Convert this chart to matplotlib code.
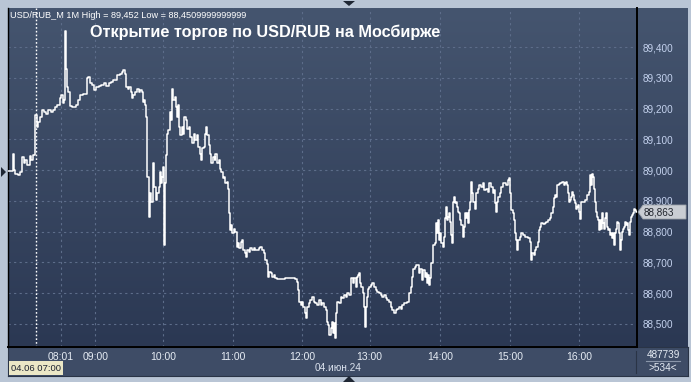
import matplotlib
matplotlib.use("Agg")
import matplotlib.pyplot as plt
import numpy as np
from matplotlib.colors import LinearSegmentedColormap
from matplotlib.patches import Polygon, Rectangle
from matplotlib.ticker import FuncFormatter

plt.rcParams["font.family"] = ["Liberation Sans", "DejaVu Sans"]

W, H = 691, 382

# minute-bar index (0 = first bar on screen) and close price
bars = [
    0, 2.8, 4.2, 4.8, 6.2, 8.5, 10.2, 11.9, 13.3, 14.7, 16.4, 18.4, 19.8, 21.5, 22.7,
    23.2, 24.4, 25.5, 27.2, 28.9, 30.6, 32.6, 34.0, 36.3, 38.2, 40.2, 41.9, 43.9, 45.3,
    46.5, 47.6, 48.2, 49.0, 49.9, 51.0, 52.4, 54.4, 56.1, 57.5, 59.5, 61.2, 63.7, 65.7,
    66.9, 68.0, 69.7, 71.4, 73.1, 74.8, 77.1, 79.3, 81.6, 83.6, 85.5, 87.8,
    89.4, 92.3, 95.1, 96.5, 97.9, 99.3, 100.2, 101.6, 103.0, 104.1, 105.0, 106.4,
    108.1, 109.5, 110.9, 112.4, 113.5, 114.3, 115.5, 116.3, 117.2, 117.7, 118.3, 119.4,
    120.6, 121.4, 122.8, 123.4, 124.2, 125.6, 126.8, 127.9, 129.0, 129.9, 131.0, 131.6,
    132.2, 132.4, 133.3, 134.1, 135.0, 136.1, 137.5, 138.4, 139.2, 140.4, 141.8, 142.6,
    143.5, 144.3, 145.5, 146.3, 147.4, 148.6, 149.7, 150.8, 152.0, 153.4, 154.8, 156.2,
    157.6, 159.0, 160.5, 161.6, 162.7, 163.9, 165.0, 166.1, 167.2, 168.1, 169.2, 170.4,
    171.5, 172.6, 174.0, 175.4,
    176.0, 177.4, 178.9, 180.3, 181.1, 182.3, 183.4, 184.5, 185.7, 186.8, 187.3, 188.2,
    189.0, 190.2, 191.6, 193.0, 194.1, 195.3, 196.4, 197.5, 198.7, 199.8, 200.9, 202.1,
    203.2, 204.3, 205.7, 207.2, 208.6, 210.0, 211.4, 212.8, 214.2, 215.6, 217.1, 218.5,
    219.9, 220.7, 221.9, 223.0, 224.1, 225.5, 227.0, 228.4, 229.8, 232.6, 235.5, 238.3,
    241.1, 243.4, 245.4, 246.2, 247.3, 248.5, 249.6, 250.7, 251.9, 253.0, 254.1, 255.3,
    256.7, 258.1, 259.5, 260.9, 262.3,
    264.0, 265.5, 266.9, 268.3, 269.7, 271.1, 272.0, 272.8, 274.0, 274.8, 275.6, 276.8,
    277.6, 278.5, 279.6, 281.0, 282.4, 283.9, 285.3, 286.7, 288.1, 289.5, 290.9, 291.5,
    292.6, 293.8, 295.2, 296.0, 297.2, 298.0, 298.9, 300.0, 301.1, 302.2, 302.8, 303.7,
    304.5, 305.6, 306.8, 307.9, 309.3, 310.7, 312.1, 313.6, 315.0, 316.4, 317.8, 319.2,
    320.6, 322.1, 323.5, 324.9, 326.3, 327.7, 329.1, 330.5, 332.0, 333.4, 334.8, 336.2,
    337.6, 339.0, 340.4, 341.9, 343.3, 344.1, 345.3, 346.4,
    347.7, 348.6, 349.7, 351.4, 352.5, 353.7, 354.8, 355.6, 356.5, 357.6, 358.5, 359.3,
    360.4, 361.0, 362.1, 363.3, 364.1, 365.0, 366.1, 367.0, 367.8, 368.9, 369.8, 370.9,
    371.8, 372.6, 373.5, 374.6, 375.4, 376.3, 376.9, 377.4, 378.3, 379.1, 380.3, 381.1,
    382.0, 383.1, 383.9, 384.8, 385.9, 386.8, 387.6, 388.7, 389.6, 390.7, 391.6, 392.4,
    393.3, 394.1, 395.0, 396.1, 397.2, 398.1, 399.2, 400.1, 401.5, 402.9, 404.3, 405.7,
    407.1, 408.6, 410.0, 411.4, 412.8, 413.6, 414.2, 415.1, 416.2, 417.6, 418.7, 419.9,
    421.3, 422.7, 424.1, 425.0, 426.1, 426.9, 428.4, 429.2, 430.1, 431.2, 432.0,
    433.2, 434.3, 435.7, 437.1, 438.6, 440.0, 441.4, 442.8, 443.7, 444.2, 445.1, 446.2,
    447.0, 448.5, 449.9, 450.7, 451.6, 452.7, 454.1, 455.5, 456.9, 458.4, 459.8, 461.2,
    462.3, 463.2, 464.0, 464.9, 466.0, 467.4, 468.8, 470.3, 471.7, 473.1, 473.9, 474.8,
    475.3, 475.9, 476.8, 477.6, 478.7, 479.6, 480.4, 481.0, 481.9, 482.7, 483.8, 484.7,
    485.5, 486.1, 486.7, 488.1, 489.5, 490.9, 491.8, 492.9, 493.7, 494.6, 495.7, 496.3,
    497.1, 498.0, 498.8, 499.7, 500.8, 501.7, 502.5, 503.4, 504.2, 505.1, 505.9, 506.8,
    507.6, 508.5, 509.3, 510.2, 511.0, 511.8, 512.7, 513.5, 514.4, 515.2, 516.1, 516.9,
    517.8, 518.6, 519.5, 520.3, 521.2, 522.0, 522.9, 524.0, 524.9, 525.7, 526.6, 527.4,
    528.3, 529.1, 530.0, 530.8, 531.7, 532.6, 533.4, 534.3,
]
prices = [
    88.998, 88.998, 89.051, 89.000, 88.987, 88.984, 88.995, 89.043, 89.022, 89.033, 89.016,
    89.046, 89.033, 89.049, 89.054,
    89.179, 89.141, 89.157, 89.173, 89.197, 89.190, 89.182, 89.195, 89.190, 89.195, 89.204,
    89.211, 89.233, 89.244, 89.217, 89.228, 89.452, 89.330, 89.271, 89.255, 89.208, 89.206,
    89.204, 89.211, 89.228, 89.244, 89.247, 89.249, 89.298, 89.303, 89.284, 89.276, 89.260,
    89.271, 89.273, 89.276, 89.282, 89.273, 89.282, 89.287,
    89.293, 89.309, 89.314, 89.320, 89.325, 89.314, 89.271, 89.265, 89.271, 89.255, 89.233,
    89.244, 89.255, 89.265, 89.255, 89.260, 89.255, 89.222, 89.228, 89.211, 89.173, 89.108,
    88.978, 88.848, 88.924, 88.897, 88.962, 89.022, 88.946, 88.902, 88.924, 88.946, 88.995,
    88.957, 88.978, 89.011, 88.935, 88.757, 88.957, 89.049, 89.119, 89.130, 89.190, 89.163,
    89.265, 89.228, 89.238, 89.206, 89.173, 89.211, 89.141, 89.114, 89.141, 89.119, 89.173,
    89.163, 89.135, 89.141, 89.108, 89.087, 89.119, 89.098, 89.114, 89.076, 89.054, 89.033,
    89.071, 89.076, 89.119, 89.141, 89.114, 89.081, 89.054, 89.022, 89.043, 89.033,
    89.054, 89.022, 89.033, 89.005, 88.995, 88.973, 88.978, 88.957, 88.962, 88.940, 88.859,
    88.805, 88.821, 88.794, 88.810, 88.799, 88.751, 88.762, 88.746, 88.767, 88.773, 88.740,
    88.729, 88.718, 88.740, 88.735, 88.746, 88.740, 88.746, 88.740, 88.740, 88.746, 88.751,
    88.740, 88.729, 88.707, 88.696, 88.653, 88.669, 88.664, 88.653, 88.658, 88.650, 88.647,
    88.647, 88.647, 88.650, 88.649, 88.650, 88.647, 88.636, 88.610, 88.572, 88.561, 88.572,
    88.556, 88.534, 88.518, 88.556, 88.567, 88.578, 88.588, 88.572, 88.567, 88.561,
    88.578, 88.561, 88.567, 88.556, 88.545, 88.507, 88.496, 88.464, 88.486, 88.507, 88.469,
    88.502, 88.453, 88.534, 88.572, 88.567, 88.588, 88.583, 88.594, 88.588, 88.599, 88.594,
    88.621, 88.648, 88.632, 88.648, 88.621, 88.653, 88.658, 88.664, 88.632, 88.621, 88.599,
    88.556, 88.491, 88.556, 88.588, 88.615, 88.621, 88.626, 88.632, 88.621, 88.610, 88.605,
    88.599, 88.594, 88.588, 88.594, 88.583, 88.578, 88.572, 88.556, 88.545, 88.534, 88.545,
    88.550, 88.556, 88.550, 88.561, 88.567, 88.567, 88.572, 88.599, 88.621, 88.653, 88.680,
    88.686, 88.691,
    88.691, 88.664, 88.680, 88.642, 88.675, 88.653, 88.664, 88.632, 88.659, 88.626, 88.648,
    88.697, 88.707, 88.756, 88.762, 88.827, 88.794, 88.837, 88.772, 88.794, 88.762, 88.751,
    88.783, 88.843, 88.881, 88.837, 88.848, 88.859, 88.832, 88.789, 88.762, 88.897, 88.913,
    88.892, 88.897, 88.881, 88.865, 88.859, 88.837, 88.821, 88.783, 88.816, 88.859, 88.843,
    88.859, 88.827, 88.870, 88.897, 88.962, 88.924, 88.897, 88.875, 88.924, 88.924, 88.940,
    88.951, 88.946, 88.957, 88.935, 88.940, 88.930, 88.957, 88.946, 88.924, 88.935, 88.892,
    88.865, 88.897, 88.913, 88.924, 88.946, 88.957, 88.957, 88.951, 88.967, 88.973, 88.924,
    88.870, 88.859, 88.837, 88.794, 88.773, 88.740,
    88.773, 88.783, 88.794, 88.789, 88.783, 88.783, 88.778, 88.767, 88.751, 88.707, 88.729,
    88.724, 88.740, 88.751, 88.767, 88.805, 88.816, 88.827, 88.824, 88.827, 88.832, 88.837,
    88.843, 88.859, 88.881, 88.908, 88.919, 88.913, 88.951, 88.954, 88.959, 88.960, 88.951,
    88.957, 88.960, 88.951, 88.924, 88.897, 88.902, 88.913, 88.930, 88.919, 88.902, 88.892,
    88.875, 88.881, 88.886, 88.865, 88.840, 88.875, 88.897, 88.897, 88.902, 88.902, 88.919,
    88.930, 88.984, 88.951, 88.989, 88.978, 88.940, 88.897, 88.865, 88.848, 88.837, 88.805,
    88.837, 88.810, 88.859, 88.827, 88.810, 88.843, 88.861, 88.816, 88.805, 88.810, 88.789,
    88.794, 88.778, 88.794, 88.756, 88.794, 88.810, 88.832, 88.827, 88.794, 88.740, 88.773,
    88.799, 88.810, 88.816, 88.832, 88.821, 88.827, 88.805, 88.789, 88.832, 88.848, 88.854,
    88.859, 88.875, 88.870, 88.865, 88.863,
]

y_ticks = [88.5, 88.6, 88.7, 88.8, 88.9, 89.0, 89.1, 89.2, 89.3, 89.4]
x_tick_pos = [45, 74, 132, 191, 250, 307, 367, 426, 485]
x_tick_lab = ["08:01", "09:00", "10:00", "11:00", "12:00", "13:00", "14:00", "15:00", "16:00"]
day_sep = 23.5
last_price = "88,863"
title = "Открытие торгов по USD/RUB на Мосбирже"
info = "USD/RUB_M 1M High = 89,452 Low = 88,4509999999999"


def box(px0, py0, px1, py1):
    # pixel box (top-left origin) -> figure fraction rect
    return [px0 / W, 1 - py1 / H, (px1 - px0) / W, (py1 - py0) / H]


def fx(px):
    return px / W


def fy(py):
    return 1 - py / H


fig = plt.figure(figsize=(W / 100, H / 100), dpi=100, facecolor="#b9c5d5")

# gradient background behind plot + right scale
bg = fig.add_axes(box(8, 8, 688, 347))
cmap = LinearSegmentedColormap.from_list("bg", ["#2b3853", "#45556f"])
bg.imshow(np.linspace(0, 1, 256).reshape(-1, 1), cmap=cmap, aspect="auto",
          origin="lower", extent=[0, 1, 0, 1])
bg.set_axis_off()

# bottom time-scale panel
bot = fig.add_axes(box(8, 347, 688, 376))
bot.set_facecolor("#3e4c66")
bot.set_xticks([])
bot.set_yticks([])
for s in bot.spines.values():
    s.set_color("#2a3446")

ax = fig.add_axes(box(8, 8, 637, 347))
ax.patch.set_alpha(0)
ax.plot(bars, prices, color="white", linewidth=1.1, drawstyle="steps-post", zorder=3)
ax.axvline(day_sep, color="white", linestyle=(0, (1.2, 1.5)), linewidth=1.0, zorder=2)
ax.set_xlim(0, 534)
ax.set_ylim(88.425, 89.527)
ax.set_yticks(y_ticks)
ax.yaxis.tick_right()
ax.yaxis.set_major_formatter(FuncFormatter(lambda v, p: f"{v:.3f}".replace(".", ",")))
ax.set_xticks(x_tick_pos)
ax.set_xticklabels(x_tick_lab)
ax.tick_params(axis="y", length=0, pad=4, labelsize=7.2, labelcolor="#c4d2ee")
ax.tick_params(axis="x", length=0, pad=3.5, labelsize=7.5, labelcolor="#e6ecf4")
ax.grid(True, color="#5d6d8a", linestyle=(0, (2, 3)), linewidth=0.8)
ax.set_axisbelow(True)
for k, s in ax.spines.items():
    s.set_color("black")
    s.set_linewidth(1.4 if k in ("right", "bottom") else 1.0)
ax.spines["top"].set_visible(False)

# header texts
fig.text(fx(10), fy(15), info, color="white", fontsize=6.6, va="center", ha="left")
fig.text(fx(90), fy(32), title, color="white", fontsize=11.7, fontweight="bold",
         va="center", ha="left")

# current price marker on the right scale
fig.patches.append(Polygon(
    [(fx(638), fy(212)), (fx(643), fy(205)), (fx(686), fy(205)),
     (fx(686), fy(219)), (fx(643), fy(219))],
    closed=True, transform=fig.transFigure, facecolor="#c9cdd3",
    edgecolor="#9aa0a8", linewidth=0.6, zorder=5))
fig.text(fx(644), fy(212.5), last_price, color="#20242c", fontsize=7.2,
         va="center", ha="left", zorder=6)

# bottom panel texts
fig.text(fx(338), fy(368), "04.июн.24", color="#dbe2ee", fontsize=7.2,
         va="center", ha="center")
fig.patches.append(Rectangle((fx(9), fy(375)), fx(63) - fx(9), fy(361) - fy(375),
                             transform=fig.transFigure, facecolor="#ebe7c6",
                             edgecolor="none", zorder=5))
fig.text(fx(11), fy(368.5), "04.06 07:00", color="#1c2230", fontsize=6.8,
         va="center", ha="left", zorder=6)
fig.text(fx(663), fy(355), "487739", color="#e6ecf4", fontsize=7.2,
         va="center", ha="center")
fig.lines.append(plt.Line2D([fx(646), fx(680)], [fy(361), fy(361)],
                            transform=fig.transFigure, color="#8a96aa", linewidth=0.8))
fig.text(fx(663), fy(368), ">534<", color="#e6ecf4", fontsize=7.2,
         va="center", ha="center")
fig.lines.append(plt.Line2D([fx(636), fx(636)], [fy(351), fy(373)],
                            transform=fig.transFigure, color="#2a3446", linewidth=0.8))

# scroll triangles
for pts in ([(343, 1), (355, 1), (349, 6)],
            [(1, 167), (1, 177), (6, 172)],
            [(343, 382), (355, 382), (349, 376)]):
    fig.patches.append(Polygon([(fx(a), fy(b)) for a, b in pts], closed=True,
                               transform=fig.transFigure, facecolor="#1e2633",
                               edgecolor="none"))

fig.savefig("out.png", dpi=100, facecolor=fig.get_facecolor())
